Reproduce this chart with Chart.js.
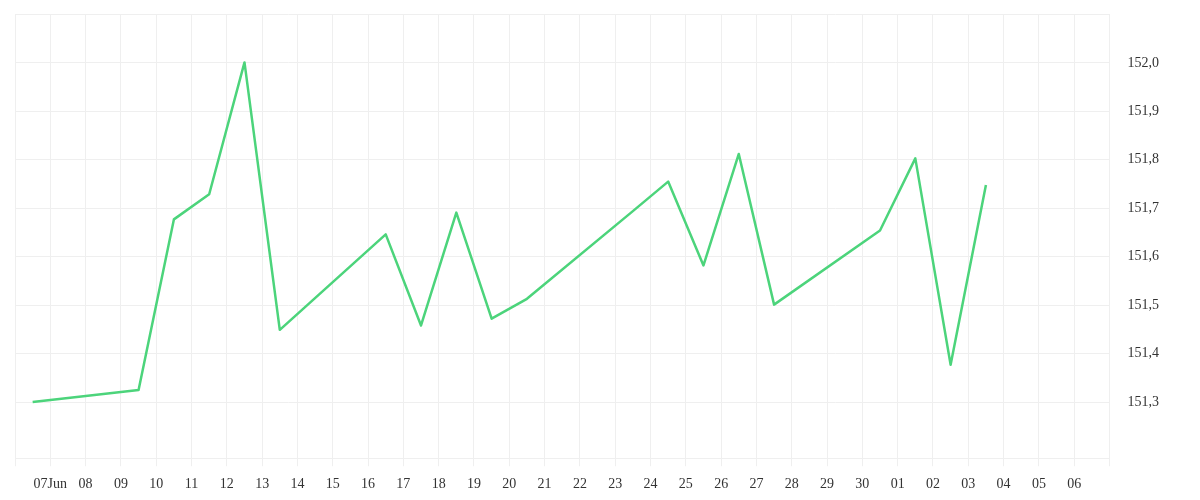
<!DOCTYPE html>
<html>
<head>
<meta charset="utf-8">
<script src="https://cdn.jsdelivr.net/npm/chart.js@4/dist/chart.umd.min.js"></script>
<style>
  html, body { margin:0; padding:0; background:#fff; }
  #wrap { width:1200px; height:500px; }
</style>
</head>
<body>
<div id="wrap"><canvas id="chart"></canvas></div>
<script>
// -- dati: un punto per giorno lavorativo (ore 12:00) --
const dates = ["2025-06-06","2025-06-09","2025-06-10","2025-06-11","2025-06-12","2025-06-13",
  "2025-06-16","2025-06-17","2025-06-18","2025-06-19","2025-06-20",
  "2025-06-23","2025-06-24","2025-06-25","2025-06-26","2025-06-27",
  "2025-06-30","2025-07-01","2025-07-02","2025-07-03"];
const prices = [151.300,151.325,151.677,151.729,152.001,151.449,
  151.646,151.458,151.691,151.472,151.513,
  151.694,151.755,151.582,151.812,151.501,
  151.654,151.803,151.377,151.748];

// -- assi --
const axisStart = "2025-06-06";
const tickLabels = ["","07Jun","08","09","10","11","12","13","14","15","16","17","18","19","20",
  "21","22","23","24","25","26","27","28","29","30","01","02","03","04","05","06",""];
const yMin = 151.184, yMax = 152.101;
const yTicks = [151.3,151.4,151.5,151.6,151.7,151.8,151.9,152.0];

const DAY = 86400000;
const t0 = Date.parse(axisStart);
let points = dates.map((d,i)=>({ x:(Date.parse(d)-t0)/DAY + 0.5, y:prices[i] }));

const grid = "#efefef";
const font = { family:"'Liberation Serif', serif", size:14 };

new Chart(document.getElementById("chart"), {
  type:'line',
  data:{ datasets:[{ data:points, borderColor:"#4cd47b", borderWidth:2.5, borderJoinStyle:'round',
    pointRadius:0, tension:0, fill:false }] },
  options:{
    responsive:true, maintainAspectRatio:false, animation:false,
    layout:{ padding:{ left:15, top:14, right:23, bottom:-3 } },
    plugins:{ legend:{display:false}, tooltip:{enabled:false} },
    scales:{
      x:{
        type:'linear', min:0, max:tickLabels.length-1,
        grid:{ color:grid, tickLength:8 },
        border:{ color:grid },
        ticks:{ stepSize:1, autoSkip:false, maxRotation:0, padding:10, color:"#333", font,
          callback:(v)=>tickLabels[v] ?? "" }
      },
      y:{
        position:'right', min:yMin, max:yMax,
        grid:{ color:grid, drawTicks:false },
        border:{ color:grid },
        afterBuildTicks:(s)=>{ s.ticks=[yMin,...yTicks,yMax].map(v=>({value:v})); },
        afterFit:(s)=>{ s.paddingTop=0; s.paddingBottom=0; },
        ticks:{ padding:18, color:"#333", font,
          callback:(v)=> yTicks.some(t=>Math.abs(t-v)<1e-6) ? v.toFixed(1).replace('.',',') : "" }
      }
    }
  }
});
</script>
</body>
</html>
